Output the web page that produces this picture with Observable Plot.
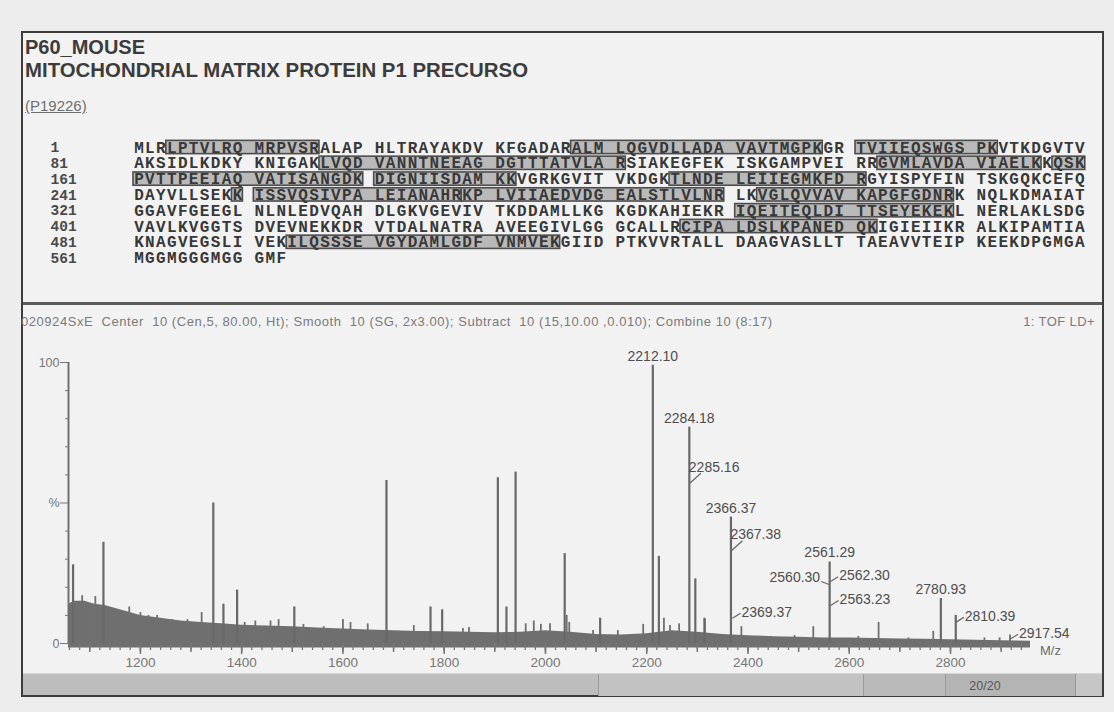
<!DOCTYPE html>
<html><head><meta charset="utf-8">
<script src="https://cdn.jsdelivr.net/npm/d3@7"></script>
<script src="https://cdn.jsdelivr.net/npm/@observablehq/plot@0.6"></script>
<style>
html,body{margin:0;padding:0;background:#ededed;}
#page{position:relative;width:1114px;height:712px;overflow:hidden;font-family:"Liberation Sans",Arial,sans-serif;background:#ededed;}
.abs{position:absolute;white-space:nowrap;}
#frame{left:21px;top:31px;width:1079px;height:662px;border:2px solid #3c3c3c;background:#f2f2f2;}
.seg{position:absolute;top:0;height:22px;border-left:1px solid #9a9a9a;box-sizing:border-box;}
</style></head><body>
<div id="page">
  <div id="frame" class="abs"></div>
  <div class="abs" style="left:25px;top:37px;font-size:20px;font-weight:bold;color:#3c3c3c;line-height:20px;">P60_MOUSE</div>
  <div class="abs" style="left:25px;top:60px;font-size:20.4px;font-weight:bold;color:#3c3c3c;line-height:20px;">MITOCHONDRIAL MATRIX PROTEIN P1 PRECURSO</div>
  <div class="abs" style="left:25px;top:98px;font-size:15px;color:#6e6e6e;text-decoration:underline;line-height:16px;">(P19226)</div>
  <div id="seq" class="abs" style="left:0;top:130px;width:1114px;height:150px;"></div>
  <div class="abs" style="left:23px;top:302px;width:1079px;height:3px;background:#5a5a5a;"></div>
  <div id="hdr" class="abs" style="left:21px;top:315px;font-size:13px;letter-spacing:0.55px;color:#7a7a7a;line-height:14px;"></div>
  <div id="hdr2" class="abs" style="right:19px;top:315px;font-size:13px;letter-spacing:0.4px;color:#7a7a7a;line-height:14px;"></div>
  <div id="spec" class="abs" style="left:0;top:330px;width:1114px;height:350px;"></div>
  <div class="abs" style="left:1040px;top:644px;font-size:13px;color:#6a6a6a;line-height:14px;">M/z</div>
  <div class="abs" style="left:23px;top:673px;width:1079px;height:22px;background:#bdbdbd;border-top:1px solid #d6d6d6;box-sizing:border-box;">
    <div class="seg" style="left:575px;width:265px;background:#c2c2c2;"></div>
    <div class="seg" style="left:840px;width:82px;background:#bababa;"></div>
    <div class="seg" style="left:922px;width:130px;background:#b4b4b4;"></div>
    <div class="seg" style="left:1052px;width:27px;background:#c6c6c6;"></div>
    <div id="stat" class="abs" style="left:922px;width:80px;top:5px;text-align:center;font-size:12.5px;color:#555;"></div>
  </div>
</div>
<script>
// ---------- sequence panel data ----------
const seqStarts = [1, 81, 161, 241, 321, 401, 481, 561];
const seqLines = [
  "MLRLPTVLRQ MRPVSRALAP HLTRAYAKDV KFGADARALM LQGVDLLADA VAVTMGPKGR TVIIEQSWGS PKVTKDGVTV",
  "AKSIDLKDKY KNIGAKLVQD VANNTNEEAG DGTTTATVLA RSIAKEGFEK ISKGAMPVEI RRGVMLAVDA VIAELKKQSK",
  "PVTTPEEIAQ VATISANGDK DIGNIISDAM KKVGRKGVIT VKDGKTLNDE LEIIEGMKFD RGYISPYFIN TSKGQKCEFQ",
  "DAYVLLSEKK ISSVQSIVPA LEIANAHRKP LVIIAEDVDG EALSTLVLNR LKVGLQVVAV KAPGFGDNRK NQLKDMAIAT",
  "GGAVFGEEGL NLNLEDVQAH DLGKVGEVIV TKDDAMLLKG KGDKAHIEKR IQEITEQLDI TTSEYEKEKL NERLAKLSDG",
  "VAVLKVGGTS DVEVNEKKDR VTDALNATRA AVEEGIVLGG GCALLRCIPA LDSLKPANED QKIGIEIIKR ALKIPAMTIA",
  "KNAGVEGSLI VEKILQSSSE VGYDAMLGDF VNMVEKGIID PTKVVRTALL DAAGVASLLT TAEAVVTEIP KEEKDPGMGA",
  "MGGMGGGMGG GMF"
];
// matched peptides: row, first column, last column
const coverRow  = [0, 0, 0, 1, 1, 1, 2, 2, 2, 3, 3, 3, 3, 4, 5, 6];
const coverFrom = [3, 40, 66, 17, 68, 84, 0, 22, 49, 9, 11, 30, 57, 55, 50, 14];
const coverTo   = [16, 62, 78, 44, 82, 86, 20, 34, 66, 9, 29, 53, 74, 74, 67, 38];

// ---------- spectrum data ----------
const headerText = "020924SxE\u00a0 Center\u00a0 10 (Cen,5, 80.00, Ht); Smooth\u00a0 10 (SG, 2x3.00); Subtract\u00a0 10 (15,10.00 ,0.010); Combine 10 (8:17)";
const instrumentText = "1: TOF LD+";
const statusText = "20/20";
const noiseMz  = [1058,1070,1090,1110,1130,1160,1200,1240,1280,1320,1360,1400,1450,1500,1550,1600,1650,1700,1750,1800,1850,1900,1950,2000,2050,2100,2150,2200,2250,2300,2350,2400,2450,2500,2550,2600,2650,2700,2750,2800,2850,2900,2958];
const noiseTop = [14,15,15,14,13.5,12,10,9,8,7.5,7,6.5,6.2,6,5.5,5.2,4.8,4.5,4.3,4.2,4,3.8,4,4.5,4,3.2,3,3.5,4.5,4,3.2,2.8,2.4,2.2,2,2,1.8,1.6,1.5,1.3,1.2,1,0.8];
const spikeMz  = [1085,1111,1141,1156,1178,1200,1216,1233,1263,1293,1321,1406,1427,1457,1473,1522,1562,1600,1615,1649,1740,1837,1849,1961,1977,1991,2009,2042,2047,2094,2143,2193,2234,2246,2264,2315,2387,2446,2492,2529,2618,2658,2717,2766,2867,2897,2917.54];
const spikeInt = [17,16.7,12.5,12,13,11,10,10,8.5,8.5,11,7.5,8,8,8.5,6.8,6,8.5,7.5,7,6.4,5.3,5.7,7,8,6.8,7,10,7.5,4.6,4.6,6.8,9,6.4,7,8.5,6,2.5,2.8,6,2.5,7.5,2,4.3,2,2,3];
const peakMz  = [1067,1127,1344,1364,1391,1504,1686,1773,1796,1906,1923,1941,2038,2108,2212.10,2224,2284.18,2296,2314,2366.37,2561.29,2780.93,2810.39];
const peakInt = [28,36,50,14,19,13,58,13,12,59,13,61,32,9,99,31,77,23,9,45,29,16,10];
const labelText = ["2212.10","2284.18","2285.16","2366.37","2367.38","2369.37","2560.30","2561.29","2562.30","2563.23","2780.93","2810.39","2917.54"];
const labelInt  = [99,77,57,45,33,9,21,29,22,13.5,16,7.5,1.5];
const yTicks = [0, 50, 100];
const yTickText = ["0", "%", "100"];

// ---------- sequence panel ----------
const CH = 10.94, ROW = 15.8;
const chars = seqLines.flatMap((s, r) => Array.from(s, (c, col) => ({r, col, c}))).filter(d => d.c !== " ");
const boxes = coverRow.map((r, i) => ({r, from: coverFrom[i], to: coverTo[i]}));
const seqPlot = Plot.plot({
  width: 1114, height: 150, margin: 0,
  x: {domain: [0, 87], range: [133, 133 + 87 * CH], axis: null},
  y: {domain: [0, 7], range: [17, 17 + 7 * ROW], axis: null},
  style: {background: "transparent", overflow: "visible"},
  marks: [
    Plot.rect(boxes, {x1: "from", x2: d => d.to + 1, y1: d => d.r - 0.42, y2: d => d.r + 0.42,
      fill: "#b9b9b9", stroke: "#4d4d4d", strokeWidth: 1.6}),
    Plot.text(chars, {x: d => d.col + 0.5, y: "r", text: "c", fontFamily: "Liberation Mono, Courier New, monospace",
      fontWeight: "bold", fontSize: 16, fill: "#383838"}),
    Plot.text(seqStarts, {x: () => 0, y: (d, i) => i, text: d => String(d), textAnchor: "start", dx: -83,
      fontFamily: "Liberation Mono, Courier New, monospace", fontWeight: "bold", fontSize: 14.5, fill: "#4a4a4a"})
  ]
});
document.getElementById("seq").appendChild(seqPlot);

// ---------- spectrum ----------
document.getElementById("hdr").textContent = headerText;
document.getElementById("hdr2").textContent = instrumentText;
document.getElementById("stat").textContent = statusText;

const noise = noiseMz.map((mz, i) => ({mz, top: noiseTop[i]}));
const spikes = spikeMz.map((mz, i) => ({mz, v: spikeInt[i]}));
const peaks = peakMz.map((mz, i) => ({mz, v: peakInt[i]}));
const place = {"2212.10": "top", "2284.18": "top", "2366.37": "top", "2561.29": "top", "2780.93": "top",
               "2285.16": "over", "2367.38": "over", "2560.30": "left"};
const labels = labelText.map((t, i) => ({t, mz: +t, at: labelInt[i], p: place[t] || "right"}));
const lead = {right: [8, -5], over: [11, -10], left: [-8, -3]};
const kx = 962 / 1900, ky = 281 / 100;
const xMin = 1058, xMax = 2958;
const tickRange = (a, b, s) => d3.range(a, b + 0.001, s);
const labelFont = {fontFamily: "Liberation Sans, Arial, sans-serif", fontSize: 14, fill: "#4e4e4e"};

const spec = Plot.plot({
  width: 1114, height: 350,
  marginLeft: 68, marginRight: 84, marginTop: 32, marginBottom: 37,
  x: {domain: [xMin, xMax], label: null},
  y: {domain: [0, 100], label: null},
  style: {background: "transparent", color: "#777", fontFamily: "Liberation Sans, Arial, sans-serif", fontSize: "13px", overflow: "visible"},
  marks: [
    Plot.areaY(noise, {x: "mz", y1: () => -1.6, y2: "top", fill: "#6f6f6f"}),
    Plot.ruleX(spikes, {x: "mz", y1: () => 0, y2: "v", stroke: "#707070", strokeWidth: 1.8}),
    Plot.ruleX(peaks, {x: "mz", y1: () => 0, y2: "v", stroke: "#686868", strokeWidth: 2.2}),
    Plot.ruleX([xMin], {y1: () => 0, y2: () => 100, stroke: "#707070", strokeWidth: 2}),
    Plot.axisY({ticks: yTicks, tickFormat: d => yTickText[yTicks.indexOf(d)], tickSize: 8, tickPadding: 1, fontSize: 12.5, label: null}),
    Plot.axisY({ticks: tickRange(10, 90, 10).filter(d => d !== 50), tickSize: 3, tickFormat: () => "", label: null}),
    Plot.axisX({ticks: tickRange(1060, 2940, 20), tickSize: 7, tickFormat: () => "", label: null, strokeWidth: 1.3}),
    Plot.axisX({ticks: tickRange(1100, 2900, 100), tickSize: 9, tickFormat: () => "", label: null, strokeWidth: 1.5}),
    Plot.axisX({ticks: tickRange(1200, 2800, 200), tickSize: 11, tickPadding: 3, fontSize: 13.5, label: null, strokeWidth: 1.5, tickFormat: d => String(d)}),
    Plot.link(labels.filter(d => d.p !== "top"), {
      x1: "mz", y1: "at",
      x2: d => d.mz + lead[d.p][0] / kx, y2: d => d.at - lead[d.p][1] / ky,
      stroke: "#6a6a6a", strokeWidth: 1.3}),
    Plot.text(labels.filter(d => d.p === "top"), {x: "mz", y: "at", text: "t", dy: -9, textAnchor: "middle", ...labelFont}),
    Plot.text(labels.filter(d => d.p === "right"), {x: "mz", y: "at", text: "t", dx: 9, dy: -6, textAnchor: "start", ...labelFont}),
    Plot.text(labels.filter(d => d.p === "over"), {x: "mz", y: "at", text: "t", dx: -1, dy: -16, textAnchor: "start", ...labelFont}),
    Plot.text(labels.filter(d => d.p === "left"), {x: "mz", y: "at", text: "t", dx: -9, dy: -7, textAnchor: "end", ...labelFont})
  ]
});
document.getElementById("spec").appendChild(spec);
</script>
</body></html>
